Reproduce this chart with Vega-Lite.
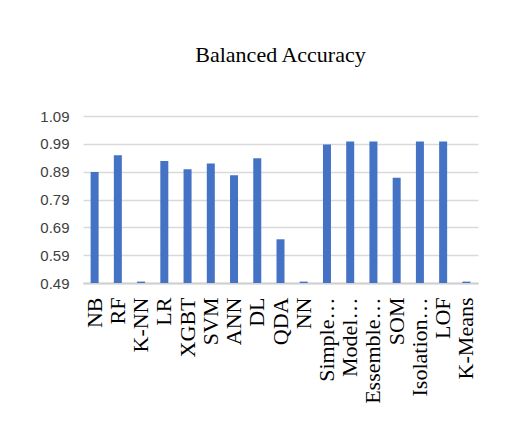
{
  "$schema": "https://vega.github.io/schema/vega-lite/v6.json",
  "autosize": "none",
  "width": 395,
  "height": 167,
  "padding": {"left": 83, "top": 116, "right": 28, "bottom": 139},
  "background": "white",
  "title": {
    "text": "Balanced Accuracy",
    "font": "Liberation Serif",
    "fontSize": 22,
    "fontWeight": "normal",
    "color": "#000000",
    "anchor": "middle",
    "offset": 42
  },
  "data": {
    "values": [
      {"model": "NB", "accuracy": 0.889},
      {"model": "RF", "accuracy": 0.949},
      {"model": "K-NN", "accuracy": 0.495},
      {"model": "LR", "accuracy": 0.928},
      {"model": "XGBT", "accuracy": 0.899},
      {"model": "SVM", "accuracy": 0.919},
      {"model": "ANN", "accuracy": 0.877},
      {"model": "DL", "accuracy": 0.938},
      {"model": "QDA", "accuracy": 0.647},
      {"model": "NN", "accuracy": 0.495},
      {"model": "Simple…", "accuracy": 0.988},
      {"model": "Model…", "accuracy": 0.998},
      {"model": "Essemble…", "accuracy": 0.998},
      {"model": "SOM", "accuracy": 0.868},
      {"model": "Isolation…", "accuracy": 0.998},
      {"model": "LOF", "accuracy": 0.998},
      {"model": "K-Means", "accuracy": 0.495}
    ]
  },
  "mark": {"type": "bar", "size": 8, "color": "#4472c4", "clip": true},
  "encoding": {
    "x": {
      "field": "model",
      "type": "nominal",
      "sort": null,
      "scale": {"paddingInner": 0, "paddingOuter": 0},
      "axis": {
        "title": null,
        "labelAngle": -90,
        "labelFont": "Liberation Serif",
        "labelFontSize": 22,
        "labelColor": "#000000",
        "labelPadding": 14,
        "labelLimit": 200,
        "ticks": false,
        "domainColor": "#d0d0d0",
        "domainWidth": 2,
        "grid": false
      }
    },
    "y": {
      "field": "accuracy",
      "type": "quantitative",
      "scale": {"domain": [0.49, 1.09], "nice": false, "zero": false},
      "axis": {
        "title": null,
        "values": [0.49, 0.59, 0.69, 0.79, 0.89, 0.99, 1.09],
        "format": ".2f",
        "labelFont": "Liberation Sans",
        "labelFontSize": 15,
        "labelColor": "#404040",
        "labelPadding": 14,
        "ticks": false,
        "domain": false,
        "gridColor": "#d9d9d9",
        "gridWidth": 1.5
      }
    },
    "y2": {"datum": 0.49}
  },
  "config": {
    "view": {"stroke": null}
  }
}
